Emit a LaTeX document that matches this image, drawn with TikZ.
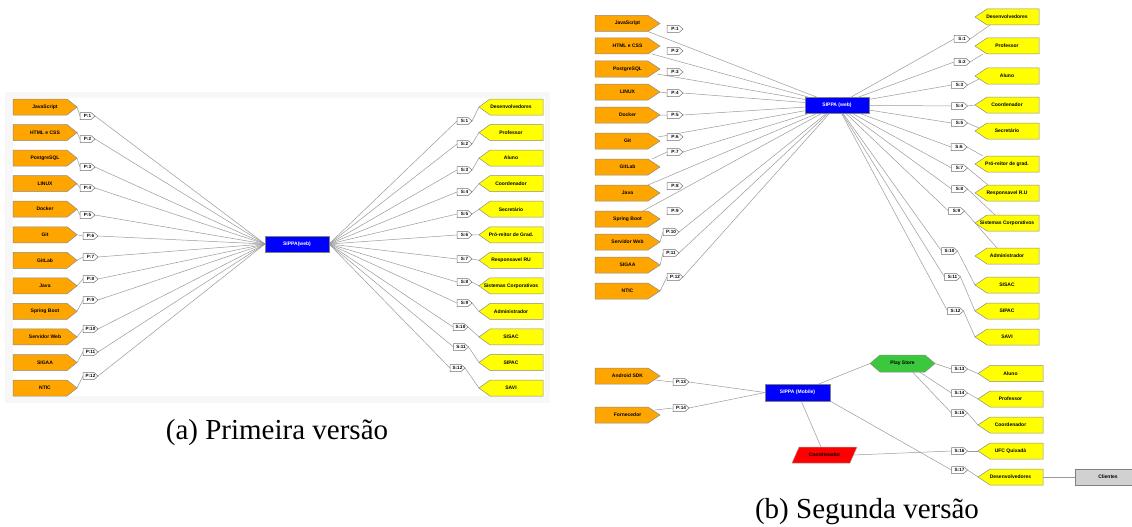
\documentclass[tikz,border=0pt]{standalone}
\usepackage{fontspec}
\setmainfont{Liberation Serif}
\newfontfamily\nf{Liberation Sans}
\definecolor{ofill}{HTML}{FFA500}
\definecolor{yfill}{HTML}{FFFF00}
\definecolor{bfill}{HTML}{0000FF}
\definecolor{gfill}{HTML}{3CC83C}
\definecolor{rfill}{HTML}{FF0000}
\definecolor{edgec}{HTML}{9A9A9A}
\definecolor{panelbg}{HTML}{F7F7F7}
\pgfdeclarelayer{back}
\pgfdeclarelayer{edges}
\pgfdeclarelayer{shapes}
\pgfsetlayers{back,edges,shapes,main}
\tikzset{
  txt/.style={inner sep=0pt, outer sep=0pt, font=\nf\bfseries\fontsize{5}{6}\selectfont, minimum height=16pt, text=black},
  tagtxt/.style={inner sep=0pt, outer sep=0pt, font=\nf\bfseries\fontsize{4.6}{5}\selectfont, minimum height=7pt, text=black},
  oshape/.style={fill=ofill, draw=black!45, line width=0.5pt},
  yshape/.style={fill=yfill, draw=black!45, line width=0.5pt},
  tshape/.style={fill=white, draw=black!55, line width=0.5pt},
  gshape/.style={fill=gfill, draw=black!45, line width=0.5pt},
  rshape/.style={fill=rfill, draw=black!35, line width=0.5pt},
  bluebox/.style={txt, fill=bfill, draw=gray, line width=0.5pt, text=white},
  edge/.style={draw=edgec, line width=0.5pt},
  caption/.style={inner sep=0pt, font=\fontsize{29}{32}\selectfont},
}
% right-pointing tag: style, name, position, width, shape style, tip, text
\newcommand\RS[7]{%
  \node[#1, minimum width=#4pt] (#2) at (#3) {#7};
  \begin{pgfonlayer}{shapes}
  \filldraw[#5] (#2.north west) -- ([xshift=-#6pt]#2.north east) -- (#2.east) -- ([xshift=-#6pt]#2.south east) -- (#2.south west) -- cycle;
  \end{pgfonlayer}}
% left-pointing tag
\newcommand\LS[7]{%
  \node[#1, minimum width=#4pt] (#2) at (#3) {#7};
  \begin{pgfonlayer}{shapes}
  \filldraw[#5] (#2.north east) -- ([xshift=#6pt]#2.north west) -- (#2.west) -- ([xshift=#6pt]#2.south west) -- (#2.south east) -- cycle;
  \end{pgfonlayer}}
\begin{document}
\begin{tikzpicture}[x=1pt, y=-1pt]
\useasboundingbox (0,0) rectangle (1132,527);
\clip (0,0) rectangle (1132,527);
\begin{pgfonlayer}{back}
  \fill[white] (0,0) rectangle (1132,527);
  \fill[panelbg] (5,92) rectangle (550,403);
  \fill[white] (13,98) rectangle (545,396);
\end{pgfonlayer}

% ================= (a) =================
\node[bluebox, minimum width=64pt] (ca) at (297,244) {SIPPA(web)};
\foreach \t/\px/\py [count=\i] in {JavaScript/87.5/116, HTML e CSS/87.5/139, PostgreSQL/87.5/167, LINUX/87.5/188, Docker/87.5/215, Git/90.5/236, GitLab/90.5/257, Java/90.5/279, Spring Boot/90.5/300, Servidor Web/90.5/329, SIGAA/90.5/352, NTIC/90.5/376}{
  \pgfmathsetmacro\ry{107+25.55*(\i-1)}
  \RS{txt}{oa\i}{45,\ry}{64}{oshape}{10}{\t}
  \RS{tagtxt}{pa\i}{\px,\py}{15}{tshape}{4}{P:\i}
  \begin{pgfonlayer}{edges}
  \draw[edge] (oa\i.east) -- (pa\i.west) (pa\i.east) -- (ca.west);
  \end{pgfonlayer}
}
\foreach \t/\px/\py [count=\i] in {Desenvolvedores/464.5/121, Professor/464.5/144, Aluno/464.5/170, Coordenador/464.5/192, Secretário/464.5/214, Pró-reitor de Grad./464.5/235, Responsavel RU/464.5/259, Sistemas Corporativos/464.5/282, Administrador/464.5/303, SISAC/460.5/327, SIPAC/461/347, SAVI/457.5/368}{
  \pgfmathsetmacro\ry{107+25.55*(\i-1)}
  \LS{txt}{ya\i}{511,\ry}{64}{yshape}{11}{\t}
  \RS{tagtxt}{sa\i}{\px,\py}{15}{tshape}{4}{S:\i}
  \begin{pgfonlayer}{edges}
  \draw[edge] (ca.east) -- (sa\i.west) (sa\i.east) -- (ya\i.west);
  \end{pgfonlayer}
}
\node[caption] (capa) at (277,433) {(a) Primeira versão};

% ================= (b) web =================
\node[bluebox, minimum width=64pt] (sw) at (837,105) {SIPPA (web)};
\foreach \t/\ry/\px/\py [count=\i] in {JavaScript/23.5/675/29, HTML e CSS/46/675/51, PostgreSQL/69/675/72, LINUX/92/675/93, Docker/115/675/115, Git/141/675/137, GitLab/167/675/152, Java/193/675/186, Spring Boot/219/675/211, Servidor Web/242/671/232, SIGAA/265/671/253, NTIC/291/675/277}{
  \RS{txt}{ob\i}{627.5,\ry}{65}{oshape}{12}{\t}
  \RS{tagtxt}{pb\i}{\px,\py}{16}{tshape}{4}{P:\i}
}
\foreach \t/\ry/\px/\py [count=\i] in {Desenvolvedores/17/962/39, Professor/46/962/62, Aluno/76/959.5/85, Coordenador/105/959.5/106, Secretário/131/959.5/123, Pró-reitor de grad./164/959/147, Responsavel R.U/193/959.5/168, Sistemas Corporativos/223/959.5/189, Administrador/256/956.5/211, SISAC/285/949.5/251, SIPAC/311/952.5/277, SAVI/337/955.5/311}{
  \LS{txt}{yb\i}{1007,\ry}{64}{yshape}{12}{\t}
  \RS{tagtxt}{sb\i}{\px,\py}{16}{tshape}{4}{S:\i}
}
\begin{pgfonlayer}{edges}
  \draw[edge] ([xshift=-12pt]ob1.south east) -- (sw);
  \draw[edge] ([xshift=-8pt]ob2.south east) -- (sw);
  \draw[edge] ([xshift=-3pt,yshift=-5pt]ob3.east) -- (sw);
  \draw[edge] (ob4.east) -- (pb4.west) (pb4.east) -- (sw);
  \draw[edge] (ob5.east) -- (pb5.west) (pb5.east) -- (sw);
  \draw[edge] ([xshift=-2pt,yshift=4pt]ob6.east) -- (sw);
  \draw[edge] ([xshift=-8pt]ob7.north east) -- (pb7.west) (pb7.east) -- (sw);
  \draw[edge] ([xshift=-12pt]ob8.north east) -- (sw);
  \draw[edge] ([xshift=-17pt]ob9.north east) -- (sw);
  \draw[edge] (ob10.east) -- (pb10.west) (pb10.east) -- (sw);
  \draw[edge] (ob11.east) -- (pb11.west) (pb11.east) -- (sw);
  \draw[edge] (ob12.east) -- (pb12.west) (pb12.east) -- (sw);
  \draw[edge] (sw) -- (sb1.west) (sb1.east) -- ([xshift=15pt]yb1.south west);
  \draw[edge] (sw) -- (sb2.west) (sb2.east) -- ([xshift=8pt]yb2.south west);
  \draw[edge] (sw) -- (sb3.west) (sb3.east) -- ([xshift=4pt,yshift=-3pt]yb3.west);
  \draw[edge] (sw) -- (sb4.west) (sb4.east) -- (yb4.west);
  \draw[edge] (sw) -- (sb5.west) (sb5.east) -- ([xshift=4pt,yshift=3pt]yb5.west);
  \draw[edge] (sw) -- (sb6.west) (sb6.east) -- ([xshift=8pt]yb6.north west);
  \draw[edge] (sw) -- (sb7.west) (sb7.east) -- ([xshift=13pt]yb7.north west);
  \draw[edge] (sw) -- (sb8.west) (sb8.east) -- ([xshift=20pt]yb8.north west);
  \draw[edge] (sw) -- (sb9.west) (sb9.east) -- ([xshift=22pt]yb9.north west);
  \draw[edge] (sw) -- (sb10.west) (sb10.east) -- (yb10.west);
  \draw[edge] (sw) -- (sb11.west) (sb11.east) -- (yb11.west);
  \draw[edge] (sw) -- (sb12.west) (sb12.east) -- (yb12.west);
\end{pgfonlayer}

% ================= (b) mobile =================
\RS{txt}{ob13}{627.5,376}{65}{oshape}{12}{Android SDK}
\RS{txt}{ob14}{627.5,415}{65}{oshape}{12}{Fornecedor}
\RS{tagtxt}{pb13}{681,382}{16}{tshape}{4}{P:13}
\RS{tagtxt}{pb14}{681,408}{16}{tshape}{4}{P:14}
\node[bluebox, minimum width=65pt, minimum height=17pt] (mob) at (797.5,392.5) {SIPPA (Mobile)};
\node[txt, minimum width=65pt] (cr) at (824.5,455) {Coordenador};
\node[txt, minimum width=65pt, minimum height=17pt] (play) at (902.5,363.5) {Play Store};
\begin{pgfonlayer}{shapes}
  \filldraw[rshape] (cr.south west) -- ([xshift=-7pt]cr.south east) -- (cr.north east) -- ([xshift=7pt]cr.north west) -- cycle;
  \filldraw[gshape] ([xshift=10pt]play.north west) -- ([xshift=-10pt]play.north east) -- (play.east) -- ([xshift=-10pt]play.south east) -- ([xshift=10pt]play.south west) -- (play.west) -- cycle;
\end{pgfonlayer}
\foreach \t/\ry/\py [count=\j from 13] in {Aluno/373.5/369, Professor/399/393, Coordenador/425/413, UFC Quixadá/451/451, Desenvolvedores/477/470}{
  \LS{txt}{yb\j}{1010.5,\ry}{65}{yshape}{12}{\t}
  \RS{tagtxt}{sb\j}{959.5,\py}{16}{tshape}{4}{S:\j}
  \begin{pgfonlayer}{edges}
  \draw[edge] (sb\j.east) -- (yb\j.west);
  \end{pgfonlayer}
}
\node[txt, fill=black!18, draw=black!50, line width=0.5pt, minimum width=66pt] (cli) at (1108,477) {Clientes};
\begin{pgfonlayer}{edges}
  \draw[edge] ([xshift=-5pt,yshift=-4pt]ob13.east) -- (pb13.west) (pb13.east) -- (mob.west);
  \draw[edge] ([xshift=-5pt,yshift=5pt]ob14.east) -- (pb14.west) (pb14.east) -- (mob.west);
  \draw[edge] (mob) -- (cr);
  \draw[edge] (mob) -- (play.west);
  \draw[edge] (mob.south east) -- (sb17.west);
  \draw[edge] (play.east) -- (sb13.west);
  \draw[edge] ([xshift=17pt]play.south) -- (sb14.west);
  \draw[edge] ([xshift=10pt]play.south) -- (sb15.west);
  \draw[edge] ([xshift=-3.5pt]cr.east) -- (sb16.west);
  \draw[edge] (yb17.east) -- (cli.west);
\end{pgfonlayer}
\node[caption] (capb) at (867,512) {(b) Segunda versão};
\end{tikzpicture}
\end{document}
